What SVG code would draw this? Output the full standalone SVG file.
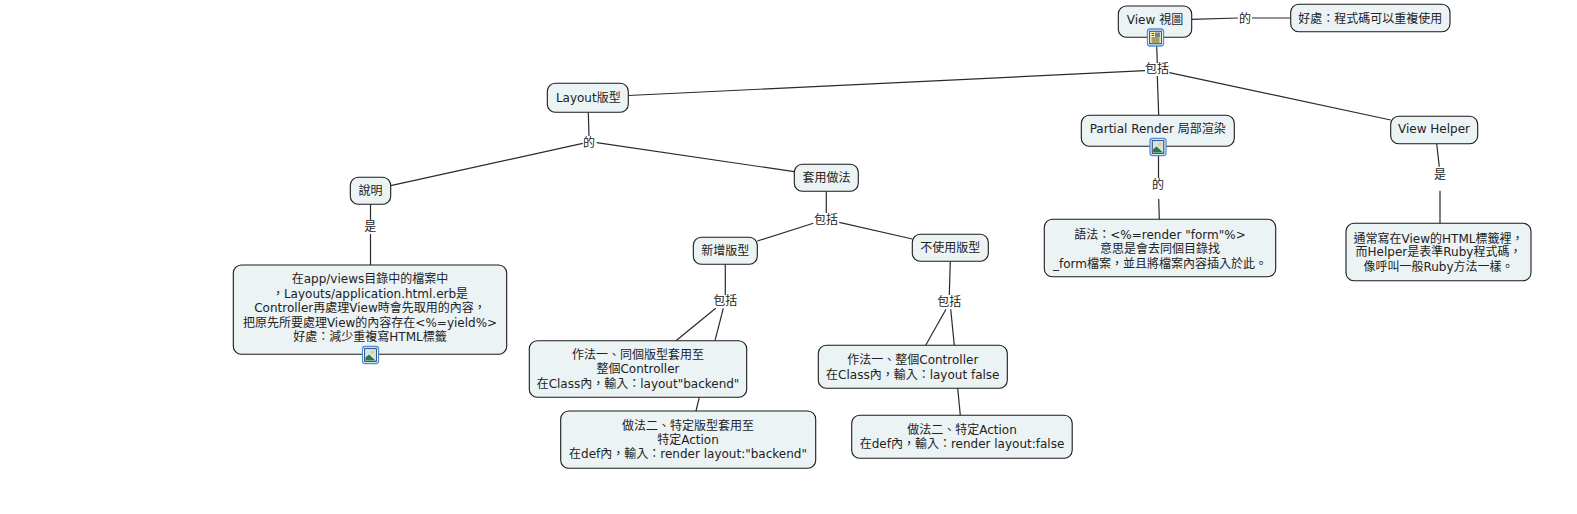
<svg xmlns="http://www.w3.org/2000/svg" xml:lang="zh-TW" lang="zh-TW" width="1577" height="514" viewBox="0 0 1577 514">
<style>
text{font-family:"DejaVu Sans","Noto Sans CJK TC",sans-serif;font-size:12px;fill:#222;text-anchor:middle}
.n rect{fill:#ecf3f5;stroke:#1a1a1a;stroke-width:1.1}
#connectors path{fill:none;stroke:#2a2a2a;stroke-width:1.2}
</style>
<defs>
<g id="frame"><rect x="-8" y="-8.500" width="16" height="17" rx="2.500" fill="#fff" stroke="#4d8fd6" stroke-width="1.300"/><rect x="-5.800" y="-6.300" width="11.600" height="12.600" fill="#fff" stroke="#17305c" stroke-width="1"/></g>
<g id="img"><use href="#frame"/><rect x="-5" y="-5.500" width="10" height="11" fill="#cfe3f5"/><path d="M-5 5.500V2.500L-1.500-.5 5 5.500Z" fill="#2a7a3a"/><circle cx="2" cy="-2.800" r="1.600" fill="#f0d040"/></g>
<g id="doc"><use href="#frame"/><rect x="-5" y="-5.500" width="10" height="11" fill="#fbf3a0"/><rect x="-.5" y="-5" width="5" height="4.500" fill="#6b83a8"/><path d="M-4-4H-1.500M-4-2H-1.500M-4 .5H4M-4 2.500H4M-4 4.500H4" stroke="#222" stroke-width=".8"/></g>
</defs>
<g id="connectors">
<path d="M1191.700 19.300L1238 18M1252 18H1290.700"/>
<path d="M1156.700 46L1157.300 63"/>
<path d="M1145 70.700L628.300 95.500"/>
<path d="M1157.300 76L1158.700 115.300"/>
<path d="M1169.300 72.700L1390.700 120"/>
<path d="M588.300 112.300L589 136"/>
<path d="M582.700 143.300L390.700 185.700"/>
<path d="M596.700 142.700L794.300 171.700"/>
<path d="M826.300 191.300V213"/>
<path d="M813.300 223.300L757.300 241"/>
<path d="M839.300 222.300L912.300 239"/>
<path d="M370.500 204.300V220M370.500 234V265"/>
<path d="M725.300 264.300V295"/>
<path d="M950.300 261.300L949.300 295"/>
<path d="M715.700 308.300L676 340.700"/>
<path d="M723.300 308.300L715 340.700"/>
<path d="M699.300 397.300L696 411"/>
<path d="M946 309.300L925.700 345.300"/>
<path d="M950.700 309.300L954.300 345.300"/>
<path d="M957.700 388.300L960.300 415.300"/>
<path d="M1158.500 155V178M1158.700 199L1159.300 219.300"/>
<path d="M1436.700 143.700L1439.300 166.700M1440 190.700V223.300"/>
</g>
<g id="n1" class="n"><rect x="1118.300" y="6" width="73.400" height="31.300" rx="8"/><text x="1155" y="24">View 視圖</text><use href="#doc" x="1155.500" y="37.500"/></g>
<g id="n2" class="n"><rect x="1290.700" y="4.300" width="159.300" height="27.400" rx="8"/><text x="1370.300" y="22.700">好處：程式碼可以重複使用</text></g>
<g id="n3" class="n"><rect x="547.300" y="83.300" width="81" height="29" rx="8"/><text x="588.300" y="102.300">Layout版型</text></g>
<g id="n4" class="n"><rect x="1081.300" y="115.300" width="153" height="31" rx="8"/><text x="1157.700" y="132.700">Partial Render 局部渲染</text><use href="#img" x="1158" y="147"/></g>
<g id="n5" class="n"><rect x="1390.700" y="116.300" width="87" height="27.400" rx="8"/><text x="1434" y="132.700">View Helper</text></g>
<g id="n6" class="n"><rect x="350.300" y="177.300" width="40.400" height="27" rx="8"/><text x="370.500" y="195">說明</text></g>
<g id="n7" class="n"><rect x="794.300" y="164.300" width="64" height="27" rx="8"/><text x="826.500" y="182.300">套用做法</text></g>
<g id="n8" class="n"><rect x="693.300" y="237.300" width="64" height="27" rx="8"/><text x="725.300" y="255.300">新增版型</text></g>
<g id="n9" class="n"><rect x="912.300" y="234.300" width="76" height="27" rx="8"/><text x="950.300" y="252.300">不使用版型</text></g>
<g id="n10" class="n"><rect x="233.300" y="265" width="273.400" height="89.300" rx="8"/><text x="370" y="283.300">在app/views目錄中的檔案中</text><text x="370" y="297.800">，Layouts/application.html.erb是</text><text x="370" y="312.300">Controller再處理View時會先取用的內容，</text><text x="370" y="326.500">把原先所要處理View的內容存在&lt;%=yield%&gt;</text><text x="370" y="341">好處：減少重複寫HTML標籤</text><use href="#img" x="370.500" y="355"/></g>
<g id="n11" class="n"><rect x="529.300" y="340.700" width="217.400" height="56.600" rx="8"/><text x="638" y="358.500">作法一、同個版型套用至</text><text x="638" y="372.500">整個Controller</text><text x="638" y="387.500">在Class內，輸入：layout"backend"</text></g>
<g id="n12" class="n"><rect x="560.700" y="411" width="255" height="57.300" rx="8"/><text x="688" y="429.500">做法二、特定版型套用至</text><text x="688" y="443.500">特定Action</text><text x="688" y="458.300">在def內，輸入：render layout:"backend"</text></g>
<g id="n13" class="n"><rect x="818.300" y="345.300" width="189" height="43" rx="8"/><text x="912.800" y="364">作法一、整個Controller</text><text x="912.800" y="379">在Class內，輸入：layout false</text></g>
<g id="n14" class="n"><rect x="851.700" y="415.300" width="220.500" height="43" rx="8"/><text x="962" y="433.700">做法二、特定Action</text><text x="962" y="448.300">在def內，輸入：render layout:false</text></g>
<g id="n15" class="n"><rect x="1044.300" y="219.300" width="231.400" height="57.400" rx="8"/><text x="1160" y="239">語法：&lt;%=render "form"%&gt;</text><text x="1160" y="253">意思是會去同個目錄找</text><text x="1160" y="267.500">_form檔案，並且將檔案內容插入於此。</text></g>
<g id="n16" class="n"><rect x="1346" y="223.300" width="185" height="57.400" rx="8"/><text x="1438.500" y="242.500">通常寫在View的HTML標籤裡，</text><text x="1438.500" y="256.300">而Helper是表準Ruby程式碼，</text><text x="1438.500" y="271">像呼叫一般Ruby方法一樣。</text></g>
<g id="labels">
<text x="1245" y="23">的</text><text x="1157" y="73.300">包括</text><text x="589" y="147">的</text><text x="826" y="224">包括</text><text x="370.300" y="231">是</text><text x="725.300" y="305">包括</text><text x="949.300" y="305.700">包括</text><text x="1158" y="189.300">的</text><text x="1440" y="179">是</text>
</g>
</svg>
